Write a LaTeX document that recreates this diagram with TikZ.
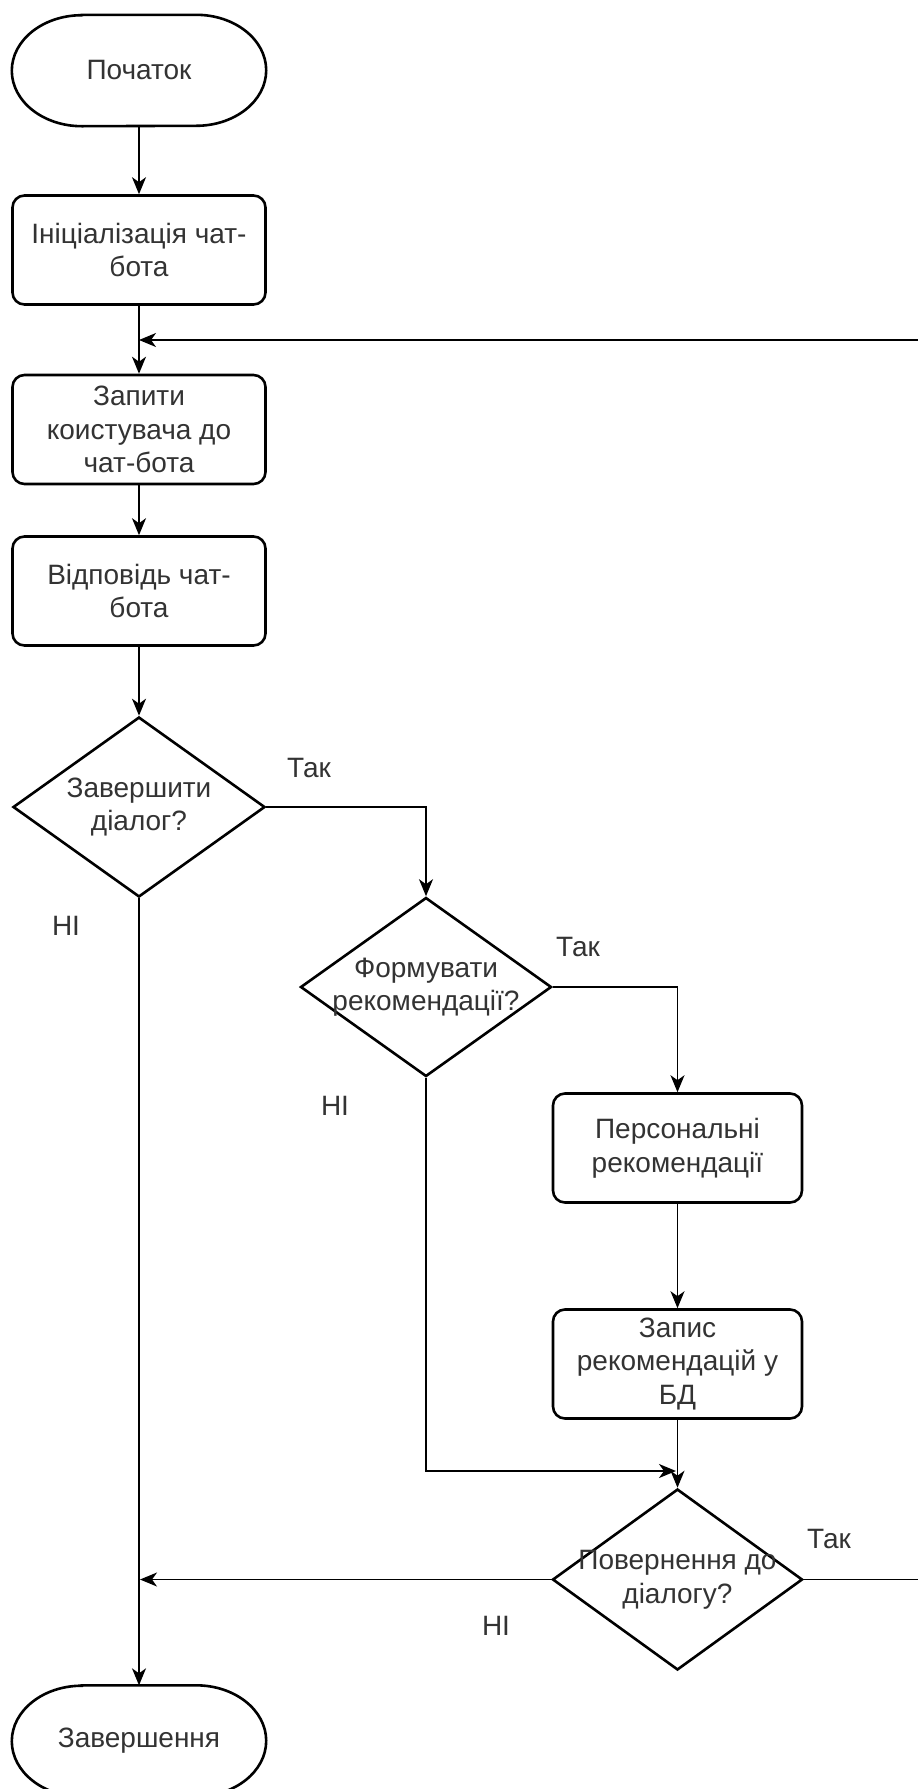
\documentclass[tikz,border=0pt]{standalone}
\usepackage{fontspec}
\setmainfont{Liberation Sans}
\usetikzlibrary{shapes.geometric,arrows.meta,calc}
\definecolor{textc}{HTML}{333333}
\begin{document}
\begin{tikzpicture}[x=1pt,y=-1pt,
  txt/.style={text=textc, font=\fontsize{28}{33.6}\selectfont, align=center},
  border/.style={draw=black, line width=2.6pt},
  box/.style={txt, border, rounded corners=12pt, minimum width=253pt, minimum height=109pt, inner sep=0pt},
  dia/.style={border, diamond, minimum width=252pt, minimum height=180pt, inner sep=0pt},
  termnode/.style={txt, minimum width=254pt, minimum height=111pt, inner sep=0pt},
  conn/.style={line width=1.6pt, -{Stealth[length=17pt,width=14pt,inset=5pt]}},
  lab/.style={txt}
]
\fill[white] (0,0) rectangle (918,1789);
\useasboundingbox (0,0) rectangle (918,1789);

% terminators
\node[termnode] (start) at (139,70.5) {Початок};
\draw[border] ($(start.north west)+(70pt,0pt)$) -- ($(start.north east)+(-70pt,0pt)$)
  arc[start angle=90,end angle=-90,x radius=70pt,y radius=55.5pt]
  -- ($(start.south west)+(70pt,0pt)$)
  arc[start angle=270,end angle=90,x radius=70pt,y radius=55.5pt] -- cycle;

\node[termnode] (end) at (139,1741) {Завершення};
\draw[border] ($(end.north west)+(70pt,0pt)$) -- ($(end.north east)+(-70pt,0pt)$)
  arc[start angle=90,end angle=-90,x radius=70pt,y radius=55.5pt]
  -- ($(end.south west)+(70pt,0pt)$)
  arc[start angle=270,end angle=90,x radius=70pt,y radius=55.5pt] -- cycle;

% process boxes
\node[box] (init) at (139,250) {Ініціалізація чат-\\бота};
\node[box] (query) at (139,429.5) {Запити\\коистувача до\\чат-бота};
\node[box] (answer) at (139,591) {Відповідь чат-\\бота};
\node[box, minimum width=249pt] (pers) at (677.5,1148) {Персональні\\рекомендації};
\node[box, minimum width=249pt] (rec) at (677.5,1364) {Запис\\рекомендацій у\\БД};

% decisions
\node[dia] (d1) at (139,807) {};
\node[txt] at (d1) {Завершити\\діалог?};
\node[dia, minimum width=251pt, minimum height=179pt] (d2) at (426,987) {};
\node[txt] at (d2) {Формувати\\рекомендації?};
\node[dia, minimum width=250pt, minimum height=181pt] (d3) at (677.5,1579.5) {};
\node[txt] at (d3) {Повернення до\\діалогу?};

% helper coordinates
\coordinate (j1) at (139,340);
\coordinate (j2) at (676,1471);
\coordinate (j3) at (140,1579.5);
\coordinate (rc) at (930,1000);

% connectors
\draw[conn] (start) -- (init);
\draw[conn] (init) -- (query);
\draw[conn] (query) -- (answer);
\draw[conn] (answer) -- (d1);
\draw[conn] (d1.east) -| (d2.north);
\draw[conn] (d2.east) -| (pers.north);
\draw[conn] (pers) -- (rec);
\draw[conn] (rec) -- (d3);
\draw[conn] (d2.south) |- (j2);
\draw[conn] (d3.west) -- (j3);
\draw[conn] (d3.east) -| (rc) |- (j1);
\draw[conn] (d1.south) -- (end.north);

% labels
\node[lab] (l1) at (309,768) {Так};
\node[lab] (l2) at (66,926) {НІ};
\node[lab] (l3) at (578,947) {Так};
\node[lab] (l4) at (335,1106) {НІ};
\node[lab] (l5) at (829,1539) {Так};
\node[lab] (l6) at (496,1626) {НІ};
\end{tikzpicture}
\end{document}
